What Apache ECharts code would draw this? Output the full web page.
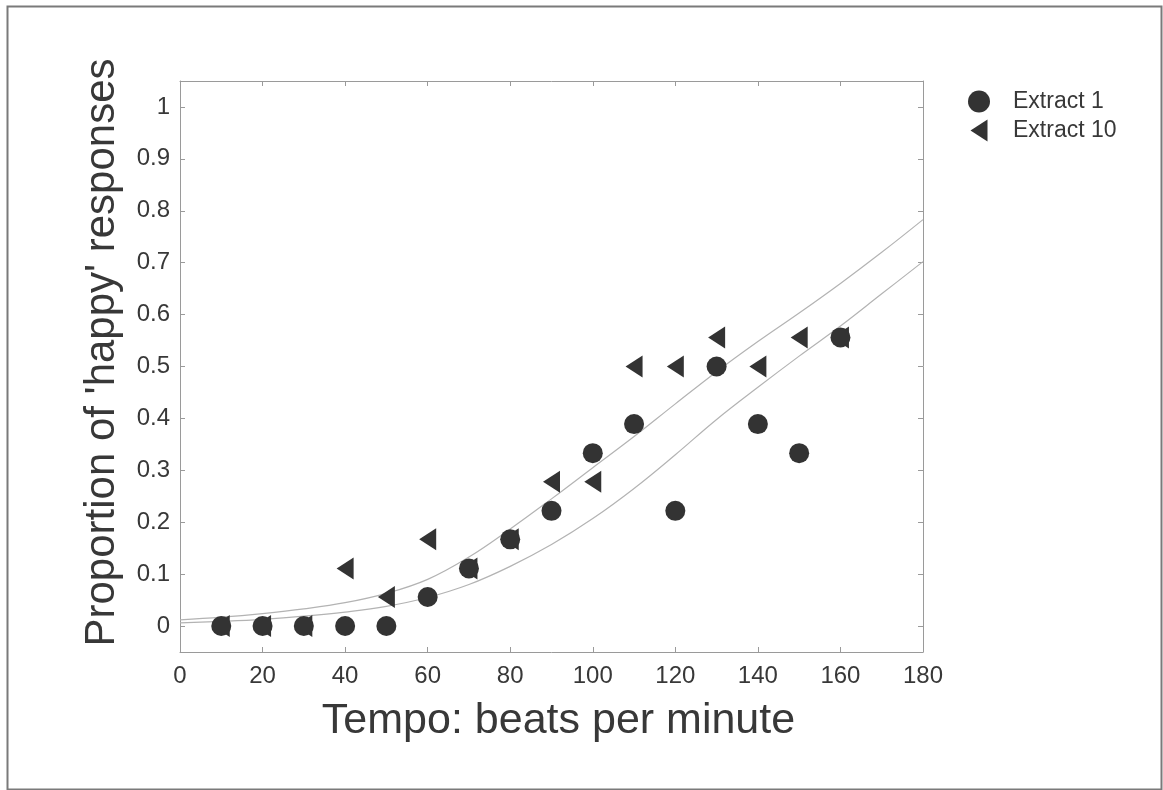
<!DOCTYPE html>
<html>
<head>
<meta charset="utf-8">
<script src="https://cdn.jsdelivr.net/npm/echarts@6/dist/echarts.min.js"></script>
<style>
  html, body { margin: 0; padding: 0; background: #fff; }
  #chart { width: 1163px; height: 790px; }
</style>
</head>
<body>
<div id="chart"></div>
<script>
// Tempo conditions (beats per minute)
const tempos = [10, 20, 30, 40, 50, 60, 70, 80, 90, 100, 110, 120, 130, 140, 150, 160];

// Proportion of 'happy' responses per tempo
const extract1 = [0, 0, 0, 0, 0, 0.056, 0.111, 0.167, 0.222, 0.333, 0.389, 0.222, 0.5, 0.389, 0.333, 0.556];
const extract10 = [0, 0, 0, 0.111, 0.056, 0.167, 0.111, 0.167, 0.278, 0.278, 0.5, 0.5, 0.556, 0.5, 0.556, 0.556];

// Fitted response curves, sampled every 10 bpm
const curveX = [0, 10, 20, 30, 40, 50, 60, 70, 80, 90, 100, 110, 120, 130, 140, 150, 160, 170, 180];
const curveUpper = [0.012, 0.017, 0.024, 0.033, 0.045, 0.063, 0.09, 0.133, 0.187, 0.245, 0.305, 0.365, 0.428, 0.49, 0.548, 0.603, 0.66, 0.72, 0.783];
const curveLower = [0.006, 0.009, 0.013, 0.019, 0.027, 0.038, 0.055, 0.08, 0.115, 0.157, 0.207, 0.265, 0.33, 0.398, 0.46, 0.52, 0.578, 0.64, 0.702];

// Axis ticks
const xTicks = [0, 20, 40, 60, 80, 100, 120, 140, 160, 180];
const yTicks = [0, 0.1, 0.2, 0.3, 0.4, 0.5, 0.6, 0.7, 0.8, 0.9, 1];

const pairs = (xs, ys) => xs.map((x, i) => [x, ys[i]]);

const AXIS_COLOR = '#9a9a9a';
const TEXT_COLOR = '#383838';
const MARK_COLOR = '#333333';
const FONT = 'Liberation Sans, Arial, sans-serif';
const LEFT_TRIANGLE = 'path://M0,11 L17,0 L17,22 Z';

const chart = echarts.init(document.getElementById('chart'), null, { renderer: 'canvas' });

const frameLine = { show: true, onZero: false, lineStyle: { color: AXIS_COLOR, width: 1 } };
const tickStyle = (values) => ({ show: true, inside: true, length: 5, customValues: values,
                                 lineStyle: { color: AXIS_COLOR, width: 1 } });

chart.setOption({
  animation: false,
  backgroundColor: '#ffffff',
  textStyle: { fontFamily: FONT },
  grid: { left: 180, right: 240, top: 81, bottom: 138, containLabel: false },
  legend: {
    orient: 'vertical',
    left: 963,
    top: 85,
    itemWidth: 22,
    itemHeight: 22,
    itemGap: 6,
    data: ['Extract 1', 'Extract 10'],
    textStyle: { fontSize: 23, color: TEXT_COLOR, fontFamily: FONT, padding: [0, 0, 0, 18] },
    selectedMode: false
  },
  xAxis: [
    {
      type: 'value', min: 0, max: 180, interval: 20, position: 'bottom',
      axisLine: frameLine, splitLine: { show: false },
      axisTick: tickStyle(xTicks),
      axisLabel: { customValues: xTicks, fontSize: 24, color: TEXT_COLOR, margin: 12, fontFamily: FONT },
      name: 'Tempo: beats per minute', nameLocation: 'middle', nameGap: 48,
      nameTextStyle: { fontSize: 43, color: TEXT_COLOR, fontFamily: FONT, padding: [0, 0, 0, 14] }
    },
    {
      type: 'value', min: 0, max: 180, interval: 20, position: 'top',
      axisLine: frameLine, splitLine: { show: false },
      axisTick: tickStyle(xTicks),
      axisLabel: { show: false }
    }
  ],
  yAxis: [
    {
      type: 'value', min: -0.05, max: 1.05, position: 'left',
      axisLine: frameLine, splitLine: { show: false },
      axisTick: tickStyle(yTicks),
      axisLabel: { customValues: yTicks, fontSize: 24, color: TEXT_COLOR, margin: 10, fontFamily: FONT,
                   formatter: v => String(+v.toFixed(2)) },
      name: "Proportion of 'happy' responses", nameLocation: 'middle', nameGap: 57,
      nameTextStyle: { fontSize: 42, color: TEXT_COLOR, fontFamily: FONT, padding: [0, 0, 0, 28] }
    },
    {
      type: 'value', min: -0.05, max: 1.05, position: 'right',
      axisLine: frameLine, splitLine: { show: false },
      axisTick: tickStyle(yTicks),
      axisLabel: { show: false }
    }
  ],
  graphic: [
    {
      type: 'rect', left: 5, top: 4, silent: true,
      shape: { width: 1154, height: 783 },
      style: { fill: 'none', stroke: '#7a7a7a', lineWidth: 2 }
    }
  ],
  series: [
    {
      name: 'Fit upper', type: 'line', data: pairs(curveX, curveUpper),
      smooth: 0.4, showSymbol: false, silent: true,
      lineStyle: { color: '#b3b3b3', width: 1.2 }, z: 1
    },
    {
      name: 'Fit lower', type: 'line', data: pairs(curveX, curveLower),
      smooth: 0.4, showSymbol: false, silent: true,
      lineStyle: { color: '#b3b3b3', width: 1.2 }, z: 1
    },
    // Top and right frame axes carry an empty series so they are laid out
    {
      name: 'frame', type: 'line', xAxisIndex: 1, yAxisIndex: 1, data: [],
      silent: true, showSymbol: false
    },
    {
      name: 'Extract 10', type: 'scatter', data: pairs(tempos, extract10),
      symbol: LEFT_TRIANGLE, symbolSize: [17, 22],
      itemStyle: { color: MARK_COLOR, opacity: 1 }, z: 2
    },
    {
      name: 'Extract 1', type: 'scatter', data: pairs(tempos, extract1),
      symbol: 'circle', symbolSize: 20,
      itemStyle: { color: MARK_COLOR, opacity: 1 }, z: 3
    }
  ]
});
</script>
</body>
</html>
